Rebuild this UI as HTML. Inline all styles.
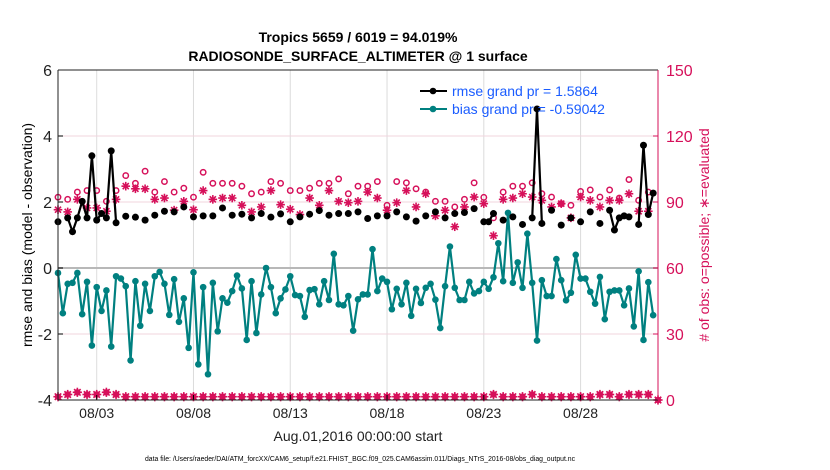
<!DOCTYPE html>
<html><head><meta charset="utf-8"><style>
body{margin:0;background:#fff;width:830px;height:470px;overflow:hidden;font-family:"Liberation Sans",Arial,sans-serif}
svg{display:block}
</style></head><body>
<svg id="chart" width="830" height="470" viewBox="0 0 830 470" xmlns="http://www.w3.org/2000/svg">
<text x="358" y="42" text-anchor="middle" font-size="14" font-weight="bold" fill="#000">Tropics 5659 / 6019 = 94.019%</text>
<text x="358" y="61" text-anchor="middle" font-size="14" font-weight="bold" fill="#000">RADIOSONDE_SURFACE_ALTIMETER @ 1 surface</text>
<g id="grid"></g>
<g id="series"></g>
<g id="axes"></g>
<text transform="translate(32,235) rotate(-90)" text-anchor="middle" font-size="14" fill="#000">rmse and bias (model - observation)</text>
<text transform="translate(709,235) rotate(-90)" text-anchor="middle" font-size="14" fill="#d6105a"># of obs: o=possible; ∗=evaluated</text>
<text x="358" y="441" text-anchor="middle" font-size="14" fill="#222">Aug.01,2016 00:00:00 start</text>
<text x="360" y="461" text-anchor="middle" font-size="7" textLength="430" lengthAdjust="spacingAndGlyphs" fill="#000">data file: /Users/raeder/DAI/ATM_forcXX/CAM6_setup/f.e21.FHIST_BGC.f09_025.CAM6assim.011/Diags_NTrS_2016-08/obs_diag_output.nc</text>
<g>
<line x1="420" y1="91" x2="447" y2="91" stroke="#000" stroke-width="2"/><circle cx="433" cy="91" r="3.3" fill="#000"/>
<text x="452" y="96" font-size="14" fill="#1a5cff">rmse grand pr = 1.5864</text>
<line x1="420" y1="109" x2="447" y2="109" stroke="#008080" stroke-width="2"/><circle cx="433" cy="109" r="3.3" fill="#008080"/>
<text x="452" y="114" font-size="14" fill="#1a5cff">bias grand pr = -0.59042</text>
</g>
</svg>
<script>
const xTickLabels=["08/03","08/08","08/13","08/18","08/23","08/28"];
const xTickDays=[2,7,12,17,22,27];
const yLeftTicks=[-4,-2,0,2,4,6];
const yRightTicks=[0,30,60,90,120,150];
const bias=[-0.15,-1.37,-0.48,-0.45,-0.15,-1.40,-0.42,-2.35,-0.58,-1.30,-0.68,-2.38,-0.25,-0.32,-0.55,-2.80,-0.40,-1.75,-0.48,-1.30,-0.25,-0.12,-0.48,-1.42,-0.34,-1.63,-0.92,-2.42,-0.13,-2.92,-0.58,-3.22,-0.45,-1.92,-0.92,-1.05,-0.70,-0.23,-0.62,-2.18,-0.40,-1.97,-0.80,0.0,-0.58,-1.37,-0.92,-0.65,-0.25,-0.82,-0.85,-1.48,-0.67,-0.64,-1.10,-0.40,-0.97,0.43,-1.10,-1.13,-0.85,-1.90,-0.95,-0.80,-0.80,0.57,-0.70,-0.32,-0.42,-1.25,-0.63,-1.10,-0.45,-1.45,-0.63,-1.06,-0.60,-0.48,-0.96,-1.82,-0.55,0.65,-0.60,-0.97,-0.97,-0.42,-0.77,-0.70,-0.42,-0.63,-0.28,0.75,-0.40,1.67,-0.45,0.17,-0.60,1.04,-0.45,-2.20,-0.37,-0.85,-0.85,0.27,-0.37,-0.98,-0.75,0.40,-0.32,-0.32,-0.72,-1.08,-0.27,-1.55,-0.72,-0.68,-0.68,-1.13,-0.62,-1.77,-0.10,-2.18,-0.43,-1.43];
const N=null;
const rmse=[1.40,N,1.52,1.10,1.52,2.02,1.52,3.40,1.45,1.65,1.52,3.55,1.37,N,1.57,N,1.54,N,1.45,N,1.60,N,1.72,N,1.70,N,1.85,N,1.55,N,1.58,N,1.58,N,1.82,N,1.60,N,1.63,N,1.52,N,1.65,N,1.54,N,1.64,N,1.40,N,1.55,N,1.63,N,1.74,N,1.60,N,1.65,N,1.65,N,1.70,N,1.50,N,1.58,N,1.58,N,1.70,N,1.55,N,1.42,N,1.58,N,1.70,N,1.52,N,1.65,N,1.68,N,1.80,N,1.40,1.40,1.65,N,1.45,N,1.55,N,1.32,N,1.52,4.82,1.35,N,1.75,N,1.30,N,1.52,N,1.40,N,1.70,N,1.35,N,1.75,1.15,1.52,1.58,1.55,N,1.32,3.72,1.62,2.27];
const obsIdx=[0,2,4,6,8,10,12,14,16,18,20,22,24,26,28,30,32,34,36,38,40,42,44,46,48,50,52,54,56,58,60,62,64,66,68,70,72,74,76,78,80,82,84,86,88,90,92,94,96,98,100,102,104,106,108,110,112,114,116,118,120,122];
const possible=[92.2,91.2,94.5,95.2,95.2,90.3,95.2,102,98.5,104,94.5,99.3,94.5,96.3,92.2,103.5,98.5,98.5,98.5,97.2,93.75,94.5,99.3,98.5,95.2,95.2,96.3,98.5,98.5,100.5,93.75,97.2,97.2,99.3,88.5,99.3,98.7,96,94.5,90.3,90.3,87.75,91.2,98.7,92.1,82.8,94.5,97.2,97.2,98.7,93.75,92.25,89.25,88.5,94.8,95.5,92.25,95.5,91.8,100.2,90.75,94.5];
const evaluated=[86.5,85.5,91.2,87.3,87.3,85.8,91.2,97.2,96,96,91.2,91.8,86.3,90.3,86.5,95.2,91.2,91.8,91.8,88.5,85.5,87.75,95.2,88.8,86.7,84.3,91.8,88.5,95.2,90.3,89.7,90.3,94.5,91.8,86.25,89.7,95.2,87.75,93.75,83.7,86.25,78.75,87.75,92.25,89.25,74.7,91.2,91.8,93.75,92.25,90.75,87.75,89.25,82.8,92.25,90.75,87.75,90.75,90.75,93.75,85.8,85.8];
const bottomIdx=[0,2,4,6,8,10,12,14,16,18,20,22,24,26,28,30,32,34,36,38,40,42,44,46,48,50,52,54,56,58,60,62,64,66,68,70,72,74,76,78,80,82,84,86,88,90,92,94,96,98,100,102,104,106,108,110,112,114,116,118,120,122,124];
const bottomObs=[1.5,2.5,3.5,2.5,2.5,3.5,2.5,1.5,1.5,1.5,1.5,1.5,1.5,1.5,1.5,1.5,1.5,1.5,1.5,1.5,1.5,1.5,1.5,1.5,1.5,1.5,1.5,1.5,1.5,1.5,1.5,1.5,1.5,1.5,1.5,1.5,1.5,1.5,1.5,1.5,1.5,1.5,1.5,1.5,1.5,2.5,1.5,1.5,1.5,2.5,1.5,1.5,1.5,1.5,1.5,1.5,2.5,2.5,1.5,2.5,2.5,2.5,0];

const L=58,R=658,T=70,B=400,STEPS=124;
const xs=i=>L+i*(R-L)/STEPS;
const xDay=d=>xs(d*4);
const yL=v=>T+(6-v)*(B-T)/10;
const yR=v=>B-v*(B-T)/150;
const NS="http://www.w3.org/2000/svg";
function mk(parent,tag,attrs){const e=document.createElementNS(NS,tag);for(const k in attrs)e.setAttribute(k,attrs[k]);parent.appendChild(e);return e;}
const grid=document.getElementById('grid'),ser=document.getElementById('series'),ax=document.getElementById('axes');
const PINK="#d6105a",TEAL="#008080";

xTickDays.forEach((d,k)=>{
  const g=mk(grid,'line',{x1:xDay(d),x2:xDay(d),y1:T,y2:B,stroke:'#dcdcdc','stroke-width':1});
  
  
  const t=mk(ax,'text',{x:xDay(d),y:418,'text-anchor':'middle','font-size':14,fill:'#222'});
  t.textContent=xTickLabels[k];
  
  
  const tk=mk(ax,'line',{x1:xDay(d),x2:xDay(d),y1:B,y2:B-5,stroke:'#000'});
  
  
});
yRightTicks.forEach(v=>{
  if(v>0&&v<150){const g=mk(grid,'line',{x1:L,x2:R,y1:yR(v),y2:yR(v),stroke:v===60?'#b8b8b8':'#f0d4de','stroke-width':v===60?2:1});
  
  }
  const t=mk(ax,'text',{x:R+8,y:yR(v)+6,'font-size':16,fill:PINK});
  t.textContent=v;
  
  
  mk(ax,'line',{x1:R,x2:R-5,y1:yR(v),y2:yR(v),stroke:PINK});
});
yLeftTicks.forEach(v=>{
  const t=mk(ax,'text',{x:L-6,y:yL(v)+6,'text-anchor':'end','font-size':16,fill:'#222'});
  t.textContent=v;
  
  
  mk(ax,'line',{x1:L,x2:L+5,y1:yL(v),y2:yL(v),stroke:'#000'});
});
const frame=[['left-axis',L,T,L,B,'#222'],['bottom-axis',L,B,R,B,'#222'],['top-border',L,T,R,T,'#222'],['right-axis',R,T,R,B,PINK]];
frame.forEach(f=>{const l=mk(ax,'line',{x1:f[1],y1:f[2],x2:f[3],y2:f[4],stroke:f[5],'stroke-width':1});
  
  });

function star(parent,cx,cy,r){
  const g=mk(parent,'g',{stroke:PINK,'stroke-width':1.6});
  for(let a=0;a<4;a++){const an=a*Math.PI/4;mk(g,'line',{x1:cx-r*Math.cos(an),y1:cy-r*Math.sin(an),x2:cx+r*Math.cos(an),y2:cy+r*Math.sin(an)});}
  return g;
}
obsIdx.forEach((i,k)=>{
  const c=mk(ser,'circle',{cx:xs(i),cy:yR(possible[k]),r:2.7,fill:'none',stroke:PINK,'stroke-width':1.5});
  
  
  const s=star(ser,xs(i),yR(evaluated[k]),4.3);
  
  
});
bottomIdx.forEach((i,k)=>{
  const c=mk(ser,'circle',{cx:xs(i),cy:yR(bottomObs[k]),r:3.2,fill:PINK});
  
  
  star(ser,xs(i),yR(bottomObs[k]),4.6);
});
function drawLine(arr,color,name,r){
  let d='';let prev=false;
  arr.forEach((v,i)=>{if(v===null){prev=false;return;}d+=(prev?'L':'M')+xs(i).toFixed(1)+' '+yL(v).toFixed(1)+' ';prev=true;});
  const p=mk(ser,'path',{d:d,fill:'none',stroke:color,'stroke-width':2.2,'stroke-linejoin':'round'});
  
  
  arr.forEach((v,i)=>{if(v===null)return;
    const c=mk(ser,'circle',{cx:xs(i),cy:yL(v),r:r,fill:color});
    
    });
}
drawLine(bias,TEAL,'bias',3.3);
drawLine(rmse,'#000','rmse',3.5);
</script>
</body></html>
